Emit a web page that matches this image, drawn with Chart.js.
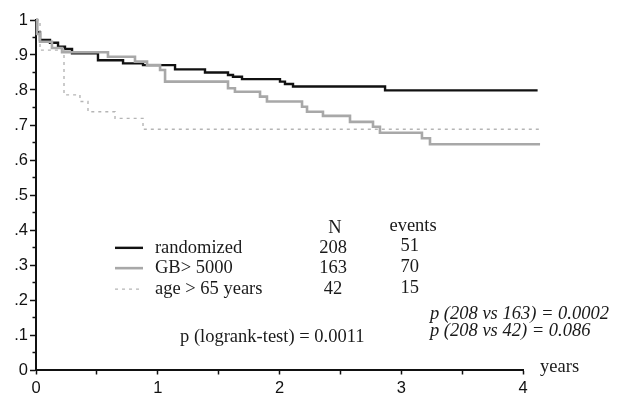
<!DOCTYPE html>
<html>
<head>
<meta charset="utf-8">
<script src="https://cdn.jsdelivr.net/npm/chart.js@4/dist/chart.umd.min.js"></script>
<style>
  html, body { margin: 0; padding: 0; background: #fff; }
  #wrap { width: 619px; height: 396px; position: relative; }
</style>
</head>
<body>
<div id="wrap"><canvas id="c"></canvas></div>
<script>
// ---- data ----
const seriesNames = ['randomized', 'GB> 5000', 'age > 65 years'];
const seriesN = ['208', '163', '42'];
const seriesEvents = ['51', '70', '15'];

const randomizedTime = [0, 0.008, 0.033, 0.115, 0.181, 0.238, 0.296, 0.509, 0.715, 0.879, 1.142, 1.388, 1.577, 1.618, 1.692, 2.004, 2.045, 2.111, 2.867, 4.12];
const randomizedSurv = [1.0, 0.965, 0.943, 0.935, 0.924, 0.917, 0.905, 0.885, 0.876, 0.871, 0.859, 0.850, 0.843, 0.838, 0.831, 0.824, 0.817, 0.810, 0.799, 0.799];

const gbTime = [0, 0.008, 0.033, 0.131, 0.214, 0.591, 0.813, 0.912, 1.019, 1.060, 1.577, 1.634, 1.840, 1.897, 2.185, 2.226, 2.357, 2.579, 2.768, 2.825, 3.170, 3.236, 4.14];
const gbSurv = [1.0, 0.96, 0.938, 0.920, 0.908, 0.895, 0.881, 0.871, 0.857, 0.824, 0.805, 0.795, 0.781, 0.767, 0.752, 0.738, 0.726, 0.709, 0.695, 0.678, 0.662, 0.645, 0.645];

const ageTime = [0, 0.033, 0.230, 0.361, 0.427, 0.649, 0.879, 4.14];
const ageSurv = [1.0, 0.914, 0.786, 0.767, 0.738, 0.719, 0.688, 0.688];

const xTickValues = [0, 1, 2, 3, 4];
const pLogrank = 'p (logrank-test) = 0.0011';
const pPairs = ['p (208 vs 163) = 0.0002', 'p (208 vs 42) = 0.086'];
const xUnit = 'years';

function toPoints(t, s) { return t.map((v, i) => ({ x: v, y: s[i] })); }

const styles = [
  { color: '#111111', width: 2.4, dash: [] },
  { color: '#a8a8a8', width: 2.6, dash: [] },
  { color: '#b5b5b5', width: 1.4, dash: [3, 4] }
];

const SERIF = '18.5px "Liberation Serif", "Times New Roman", serif';

const annot = {
  id: 'annot',
  afterDatasetsDraw(chart) {
    const ctx = chart.ctx;
    const xs = chart.scales.x, ys = chart.scales.y;
    const X = v => xs.getPixelForValue(v);
    const Y = v => ys.getPixelForValue(v);
    ctx.save();
    // minor y ticks, halfway between the labelled ticks
    ctx.strokeStyle = '#111';
    ctx.lineWidth = 1.5;
    const yt = ys.ticks.map(t => t.value);
    for (let i = 0; i < yt.length - 1; i++) {
      const py = Y((yt[i] + yt[i + 1]) / 2);
      ctx.beginPath();
      ctx.moveTo(xs.left - 3.5, py);
      ctx.lineTo(xs.left, py);
      ctx.stroke();
    }
    ctx.fillStyle = '#1a1a1a';
    ctx.textBaseline = 'middle';
    ctx.font = SERIF;
    ctx.textAlign = 'center';
    ctx.fillText('N', X(2.456), Y(0.406));
    ctx.fillText('events', X(3.097), Y(0.410));
    const rowY = [0.349, 0.291, 0.231];
    for (let i = 0; i < 3; i++) {
      const st = styles[i];
      ctx.strokeStyle = st.color;
      ctx.lineWidth = st.width;
      ctx.setLineDash(st.dash);
      ctx.beginPath();
      ctx.moveTo(X(0.649), Y(rowY[i]));
      ctx.lineTo(X(0.879), Y(rowY[i]));
      ctx.stroke();
      ctx.setLineDash([]);
      ctx.textAlign = 'left';
      ctx.fillText(seriesNames[i], X(0.977), Y(rowY[i]));
      ctx.textAlign = 'center';
      ctx.fillText(seriesN[i], X(2.44), Y(rowY[i]));
      ctx.fillText(seriesEvents[i], X(3.07), Y(rowY[i] + 0.004));
    }
    ctx.textAlign = 'left';
    ctx.fillText(pLogrank, X(1.183), Y(0.094));
    ctx.font = 'italic ' + SERIF;
    ctx.fillText(pPairs[0], X(3.236), Y(0.160));
    ctx.fillText(pPairs[1], X(3.236), Y(0.111));
    ctx.font = SERIF;
    ctx.fillText(xUnit, X(4.14), Y(0.008));
    ctx.restore();
  }
};

new Chart(document.getElementById('c'), {
  type: 'line',
  data: {
    datasets: [
      { label: seriesNames[0], data: toPoints(randomizedTime, randomizedSurv) },
      { label: seriesNames[1], data: toPoints(gbTime, gbSurv) },
      { label: seriesNames[2], data: toPoints(ageTime, ageSurv) }
    ].map((d, i) => Object.assign(d, {
      borderColor: styles[i].color,
      borderWidth: styles[i].width,
      borderDash: styles[i].dash,
      stepped: 'before',
      pointRadius: 0,
      fill: false,
      clip: false,
      tension: 0
    })).reverse()
  },
  options: {
    responsive: true,
    maintainAspectRatio: false,
    animation: false,
    layout: { padding: { top: 20, right: 96, left: 0, bottom: 0 } },
    plugins: { legend: { display: false }, tooltip: { enabled: false } },
    scales: {
      x: {
        type: 'linear',
        min: 0, max: 4,
        afterFit: s => { s.height = 26; },
        border: { display: true, color: '#111', width: 2 },
        grid: { drawOnChartArea: false, drawTicks: true, tickLength: 4.5, tickColor: '#111', tickWidth: 1.5 },
        ticks: {
          stepSize: 0.5, autoSkip: false, maxRotation: 0, padding: 4,
          color: '#111',
          font: { family: '"Liberation Sans", Arial, sans-serif', size: 16.5 },
          callback: v => (xTickValues.includes(v) ? String(v) : '')
        }
      },
      y: {
        type: 'linear',
        min: 0, max: 1,
        afterFit: s => { s.width = 36; },
        border: { display: true, color: '#111', width: 2 },
        grid: { drawOnChartArea: false, drawTicks: true, tickLength: 6, tickColor: '#111', tickWidth: 1.5 },
        ticks: {
          stepSize: 0.1, autoSkip: false, padding: 2,
          color: '#111',
          font: { family: '"Liberation Sans", Arial, sans-serif', size: 16.5 },
          callback: v => {
            const r = Math.round(v * 10);
            if (r === 10) return '1';
            if (r === 0) return '0';
            return '.' + r;
          }
        }
      }
    }
  },
  plugins: [annot]
});
</script>
</body>
</html>
